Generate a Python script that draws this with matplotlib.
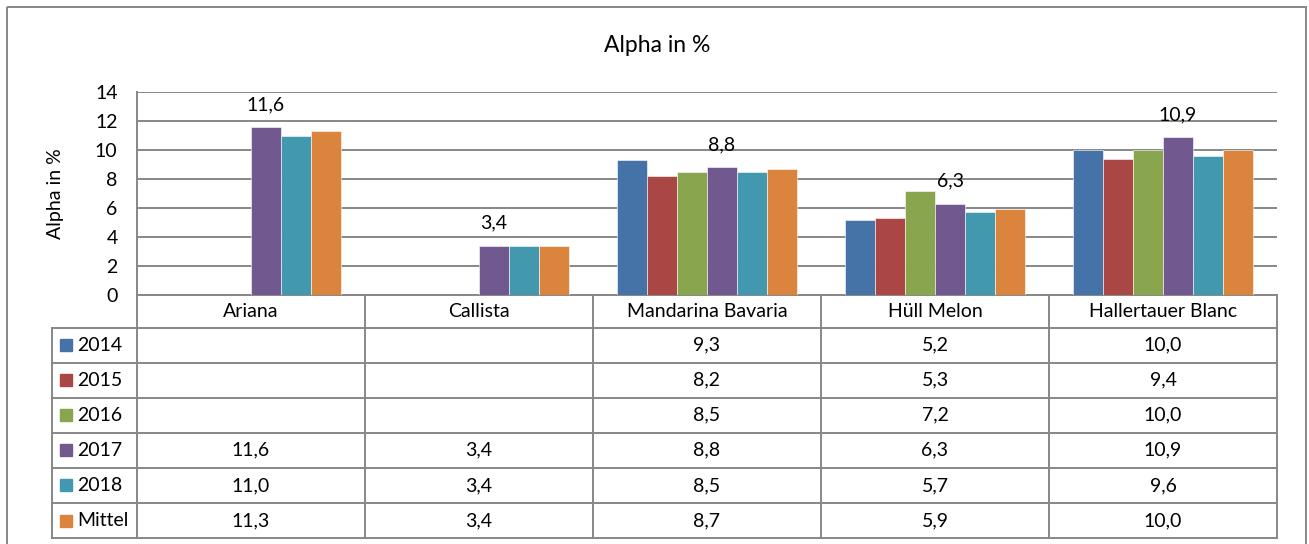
import numpy as np
import matplotlib
matplotlib.use('Agg')
import matplotlib.pyplot as plt
from matplotlib.patches import Rectangle

plt.rcParams['font.family'] = ['Lato', 'DejaVu Sans']

# Hopfensorten und Alpha-Werte je Jahr (nan = kein Wert)
sorten = ['Ariana', 'Callista', 'Mandarina Bavaria', 'Hüll Melon', 'Hallertauer Blanc']
serien = ['2014', '2015', '2016', '2017', '2018', 'Mittel']
werte_2014 = [np.nan, np.nan, 9.3, 5.2, 10.0]
werte_2015 = [np.nan, np.nan, 8.2, 5.3, 9.4]
werte_2016 = [np.nan, np.nan, 8.5, 7.2, 10.0]
werte_2017 = [11.6, 3.4, 8.8, 6.3, 10.9]
werte_2018 = [11.0, 3.4, 8.5, 5.7, 9.6]
werte_mittel = [11.3, 3.4, 8.7, 5.9, 10.0]
y_ticks = [0, 2, 4, 6, 8, 10, 12, 14]

daten = [werte_2014, werte_2015, werte_2016, werte_2017, werte_2018, werte_mittel]
farben = ['#4572A7', '#AA4643', '#89A54E', '#71588F', '#4198AF', '#DB843D']
grau = '#878787'
fs = 14

W, H = 1309, 544
fig = plt.figure(figsize=(W / 100, H / 100), dpi=100)

# Plotbereich in Pixeln
links, rechts, oben, unten = 137, 1277, 92, 295
ax = fig.add_axes([links / W, 1 - unten / H, (rechts - links) / W, (unten - oben) / H])

n = len(serien)
breite = 1 / (n + 1.6)
x = np.arange(len(sorten))
for i, (name, werte) in enumerate(zip(serien, daten)):
    bars = ax.bar(x + (i - (n - 1) / 2) * breite, werte, breite, color=farben[i],
                  edgecolor='white', linewidth=0.4, zorder=3)
    if name == '2017':
        labels = [f'{v:.1f}'.replace('.', ',') for v in werte]
        ax.bar_label(bars, labels=labels, padding=10, fontsize=fs)

ax.set_xlim(-0.5, len(sorten) - 0.5)
ax.set_ylim(0, 14)
ax.set_yticks(y_ticks)
ax.set_xticks([])
ax.tick_params(axis='y', length=0, labelsize=fs, pad=14)
ax.yaxis.grid(True, color=grau, linewidth=1.4, zorder=0)
for s in ['top', 'right']:
    ax.spines[s].set_visible(False)
for s in ['left', 'bottom']:
    ax.spines[s].set_color(grau)
    ax.spines[s].set_linewidth(1.4)
ax.patch.set_alpha(0)

# Ueberlagerung fuer Titel, Rahmen und Datentabelle (Pixelkoordinaten)
ov = fig.add_axes([0, 0, 1, 1], zorder=-1)
ov.set_xlim(0, W)
ov.set_ylim(H, 0)
ov.axis('off')

ov.add_patch(Rectangle((7, 7), 1299, 545, fill=False, edgecolor=grau, linewidth=1.4))
ov.text(657, 45, 'Alpha in %', ha='center', va='center', fontsize=16.5)
ov.text(55, 194, 'Alpha in %', ha='center', va='center', rotation=90, fontsize=fs)

tab = fig.add_axes([0, 0, 1, 1], zorder=5)
tab.set_xlim(0, W)
tab.set_ylim(H, 0)
tab.axis('off')
tab.patch.set_alpha(0)

spalten = np.linspace(links, rechts, len(sorten) + 1)
kopf_unten = 327.5
zeile_h = 35.1
zeilen = kopf_unten + zeile_h * np.arange(n + 1)
legende_links = 52

lk = dict(color=grau, linewidth=1.4, solid_capstyle='projecting')
# Gitter der Tabelle
for xs in spalten:
    tab.plot([xs, xs], [unten, zeilen[-1]], **lk)
tab.plot([legende_links, legende_links], [kopf_unten, zeilen[-1]], **lk)
for ys in zeilen:
    tab.plot([legende_links, rechts], [ys, ys], **lk)

# Kopfzeile mit Sortennamen
for j, sorte in enumerate(sorten):
    xm = (spalten[j] + spalten[j + 1]) / 2
    tab.text(xm, (unten + kopf_unten) / 2, sorte, ha='center', va='center', fontsize=fs)

for i, (name, werte) in enumerate(zip(serien, daten)):
    ym = (zeilen[i] + zeilen[i + 1]) / 2
    tab.add_patch(Rectangle((60, ym - 6), 12, 12, color=farben[i]))
    tab.text(77, ym, name, ha='left', va='center', fontsize=fs)
    for j, v in enumerate(werte):
        if np.isnan(v):
            continue
        xm = (spalten[j] + spalten[j + 1]) / 2
        tab.text(xm, ym, f'{v:.1f}'.replace('.', ','), ha='center', va='center', fontsize=fs)

fig.savefig('out.png', dpi=100)
